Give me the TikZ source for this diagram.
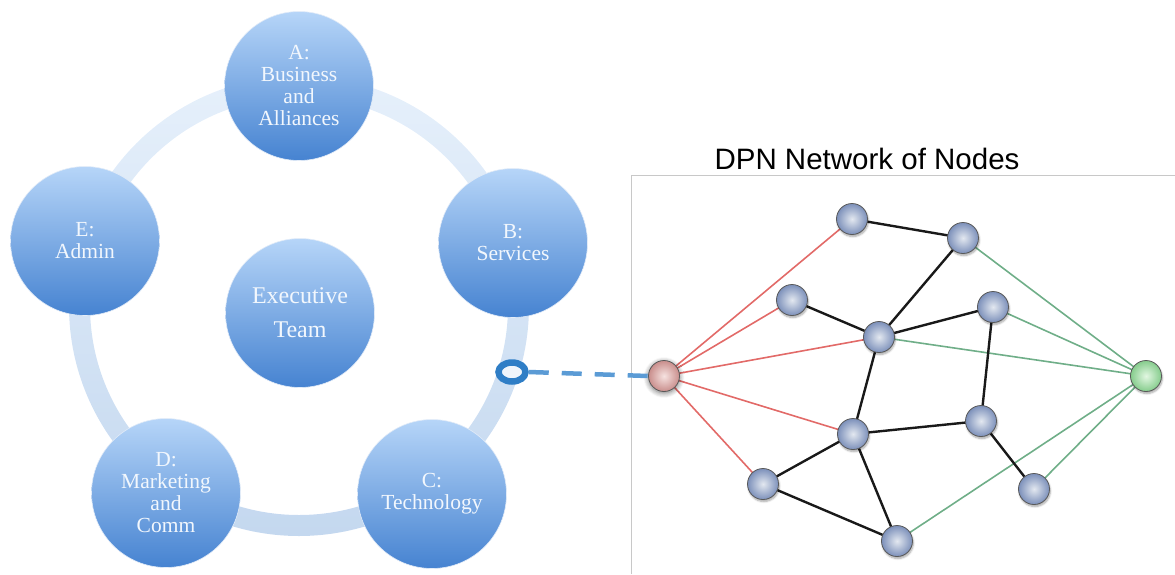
\documentclass[tikz,border=0pt]{standalone}
\usepackage{fontspec}
\setmainfont{Liberation Serif}
\newfontfamily\titlefont{Liberation Sans}
\usetikzlibrary{shadows.blur,shapes.geometric}

\definecolor{ringtop}{HTML}{E6F0FB}
\definecolor{ringbot}{HTML}{C4D8EF}
\definecolor{unittop}{HTML}{B6D5F8}
\definecolor{unitbot}{HTML}{4683D1}
\definecolor{unittext}{HTML}{F2F7FD}
\definecolor{markblue}{HTML}{2F7EC6}
\definecolor{dashblue}{HTML}{5B9BD5}
\definecolor{redlink}{HTML}{E26A68}
\definecolor{greenlink}{HTML}{6FAE88}
\definecolor{peerin}{HTML}{E3E8F0}
\definecolor{peerout}{HTML}{7C90BA}
\definecolor{srcin}{HTML}{F6E2E0}
\definecolor{srcout}{HTML}{C98E8C}
\definecolor{dstin}{HTML}{E2F7E2}
\definecolor{dstout}{HTML}{85CC8C}
\definecolor{framegray}{HTML}{C8C8C8}

\tikzset{
  unit/.style={circle, minimum size=149pt, inner sep=0pt, top color=unittop,
    bottom color=unitbot, draw=white!85!unitbot, line width=0.6pt,
    text=unittext, align=center, font=\fontsize{21.5}{22}\selectfont},
  exec/.style={unit, font=\fontsize{24}{34}\selectfont},
  peer/.style={circle, minimum size=31pt, inner sep=0pt, inner color=peerin,
    outer color=peerout, draw=black!65, line width=0.8pt,
    blur shadow={shadow xshift=0.8pt, shadow yshift=-2pt, shadow blur steps=6, shadow opacity=35}},
  source/.style={peer, inner color=srcin, outer color=srcout,
    blur shadow={shadow xshift=0pt, shadow yshift=-1.5pt, shadow blur radius=5pt, shadow opacity=30}},
  sink/.style={peer, inner color=dstin, outer color=dstout},
  core/.style={line width=2.4pt, black!90},
  inlink/.style={line width=1.6pt, redlink},
  outlink/.style={line width=1.6pt, greenlink},
}

\begin{document}
\begin{tikzpicture}[x=1pt, y=-1pt]
\useasboundingbox (0,0) rectangle (1175,574);

% ---- organisational ring ----
\shade[top color=ringtop, bottom color=ringbot, even odd rule]
  (299,306) circle[radius=230pt] (299,306) circle[radius=209pt];

\node[unit] (A) at (299,86)  {A:\\Business\\and\\Alliances};
\node[unit] (B) at (513,243) {B:\\Services};
\node[unit] (C) at (432,494) {C:\\Technology};
\node[unit] (D) at (166,493) {D:\\Marketing\\and\\Comm};
\node[unit] (E) at (85,241)  {E:\\Admin};
\node[exec] (X) at (300,313) {Executive\\Team};

% link marker on the ring
\node[ellipse, minimum width=27pt, minimum height=19pt, inner sep=0pt,
  draw=markblue, line width=6.5pt, fill=white!75!ringbot] (M) at (512,372) {};

% ---- network panel ----
\draw[framegray, line width=0.8pt] (631,574) coordinate (fb) -- (631,175) coordinate (fc) -- (1175,175) coordinate (fr);
\node[font=\titlefont\fontsize{29.5}{32}\selectfont, anchor=base, inner sep=0pt] (title) at (867,169) {DPN Network of Nodes};

\coordinate (sS) at (664,376);
\coordinate (sT) at (1146,376);
\coordinate (p1) at (852,219);
\coordinate (p2) at (963,238);
\coordinate (p3) at (792,300);
\coordinate (p4) at (879,337);
\coordinate (p5) at (993,307);
\coordinate (p6) at (853,434);
\coordinate (p7) at (981,421);
\coordinate (p8) at (763,484);
\coordinate (p9) at (1034,489);
\coordinate (p10) at (897,541);

% links from the source
\foreach \t in {p1,p3,p4,p6,p8} \draw[inlink] (sS) -- (\t);
% links into the sink
\foreach \t in {p2,p5,p4,p10,p9} \draw[outlink] (\t) -- (sT);
% links between peers
\draw[core] (p1) -- (p2);
\draw[core] (p3) -- (p4);
\draw[core] (p2) -- (p4);
\draw[core] (p4) -- (p5);
\draw[core] (p4) -- (p6);
\draw[core] (p5) -- (p7);
\draw[core] (p6) -- (p7);
\draw[core] (p6) -- (p8);
\draw[core] (p8) -- (p10);
\draw[core] (p6) -- (p10);
\draw[core] (p7) -- (p9);

\node[source] (S) at (sS) {};
\node[sink] (T) at (sT) {};
\foreach \p in {p1,p2,p3,p4,p5,p6,p7,p8,p9,p10} \node[peer] (n\p) at (\p) {};

% dashed connector from the ring marker to the source node
\draw[dashblue, line width=4.5pt, dash pattern=on 20pt off 13pt] (M.east) -- (S.west);
\end{tikzpicture}
\end{document}
